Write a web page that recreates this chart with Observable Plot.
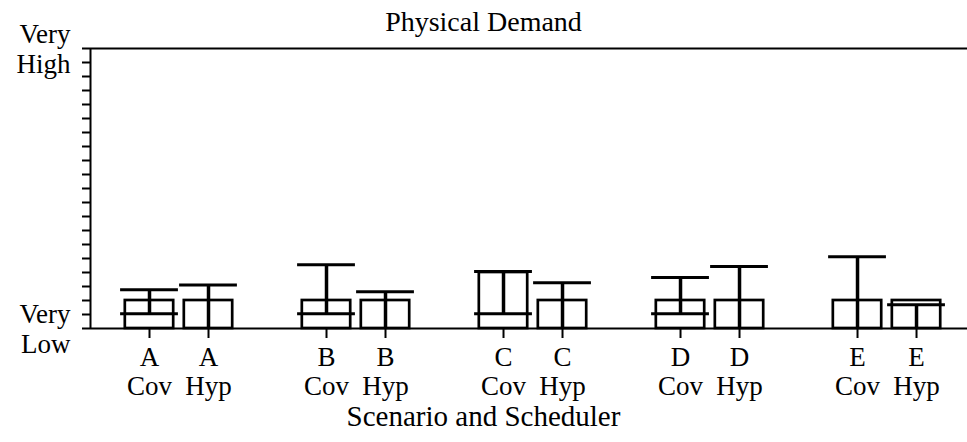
<!DOCTYPE html>
<html>
<head>
<meta charset="utf-8">
<script src="https://cdn.jsdelivr.net/npm/d3@7"></script>
<script src="https://cdn.jsdelivr.net/npm/@observablehq/plot@0.6"></script>
<style>
  html, body { margin: 0; padding: 0; background: #fff; }
  #wrap { position: relative; width: 967px; height: 442px; }
  #title { position: absolute; left: 0; width: 967px; top: 6px; text-align: center; font-family: "Liberation Serif", "Times New Roman", Tinos, serif; font-size: 28px; line-height: 32px; color: #000; }
  #xlabel { position: absolute; left: 0; width: 967px; top: 403px; text-align: center; font-family: "Liberation Serif", "Times New Roman", Tinos, serif; font-size: 29px; line-height: 26px; color: #000; }
</style>
</head>
<body>
<div id="wrap">
  <div id="chart"></div>
  <div id="title">Physical Demand</div>
  <div id="xlabel">Scenario and Scheduler</div>
</div>
<script>
// ---- data ----
const scenarios = ["A", "B", "C", "D", "E"];
const schedulers = ["Cov", "Hyp"];
// bar heights (0 = Very Low, 20 = Very High), order: A Cov, A Hyp, B Cov, ...
const barValues = [2, 2, 2, 2, 4, 2, 2, 2, 2, 2];
const errLow    = [1.05, 0, 1.05, 0, 1.05, 0, 1.05, 0, 0, 0];
const errHigh   = [2.76, 3.1, 4.55, 2.62, 4.07, 3.26, 3.64, 4.43, 5.12, 1.7];
const yTickValues = d3.range(0, 21);
const yTickLabels = {0: "Very\nLow", 20: "Very\nHigh"};

const data = scenarios.flatMap((s, i) => schedulers.map((c, j) => {
  const k = i * 2 + j;
  return {scenario: s, scheduler: c, pos: i * 3 + j, v: barValues[k], lo: errLow[k], hi: errHigh[k]};
}));
const xTicks = data.map(d => d.pos);
const xLabel = new Map(data.map(d => [d.pos, d.scenario + "\n" + d.scheduler]));

const barHalf = 0.41, capHalf = 0.49;

const chart = Plot.plot({
  width: 967,
  height: 442,
  marginLeft: 90,
  marginRight: 0,
  marginTop: 48,
  marginBottom: 114,
  style: {fontFamily: "'Liberation Serif', 'Times New Roman', Tinos, serif", fontSize: "27px", color: "black", background: "white"},
  x: {type: "linear", domain: [-1, 13.864], label: null},
  y: {domain: [0, 20], label: null},
  marks: [
    Plot.axisY({ticks: yTickValues, tickSize: 8, tickPadding: 12, strokeWidth: 2,
                tickFormat: d => yTickLabels[d] ?? "", lineHeight: 1.1, label: null}),
    Plot.axisX({ticks: xTicks, tickSize: 10, tickPadding: 7, strokeWidth: 2,
                tickFormat: d => xLabel.get(d) ?? "", lineHeight: 1.08, label: null}),
    Plot.rect(data, {x1: d => d.pos - barHalf, x2: d => d.pos + barHalf, y1: 0, y2: "v",
                     fill: "none", stroke: "black", strokeWidth: 2.7}),
    Plot.ruleX(data, {x: "pos", y1: "lo", y2: "hi", stroke: "black", strokeWidth: 3.5}),
    Plot.ruleY(data, {y: "hi", x1: d => d.pos - capHalf, x2: d => d.pos + capHalf, stroke: "black", strokeWidth: 3}),
    Plot.ruleY(data.filter(d => d.lo > 0), {y: "lo", x1: d => d.pos - capHalf, x2: d => d.pos + capHalf, stroke: "black", strokeWidth: 3}),
    Plot.ruleY([0, 20], {stroke: "black", strokeWidth: 2}),
    Plot.ruleX([-1], {y1: 0, y2: 20, stroke: "black", strokeWidth: 2})
  ]
});
document.getElementById("chart").append(chart);
</script>
</body>
</html>
